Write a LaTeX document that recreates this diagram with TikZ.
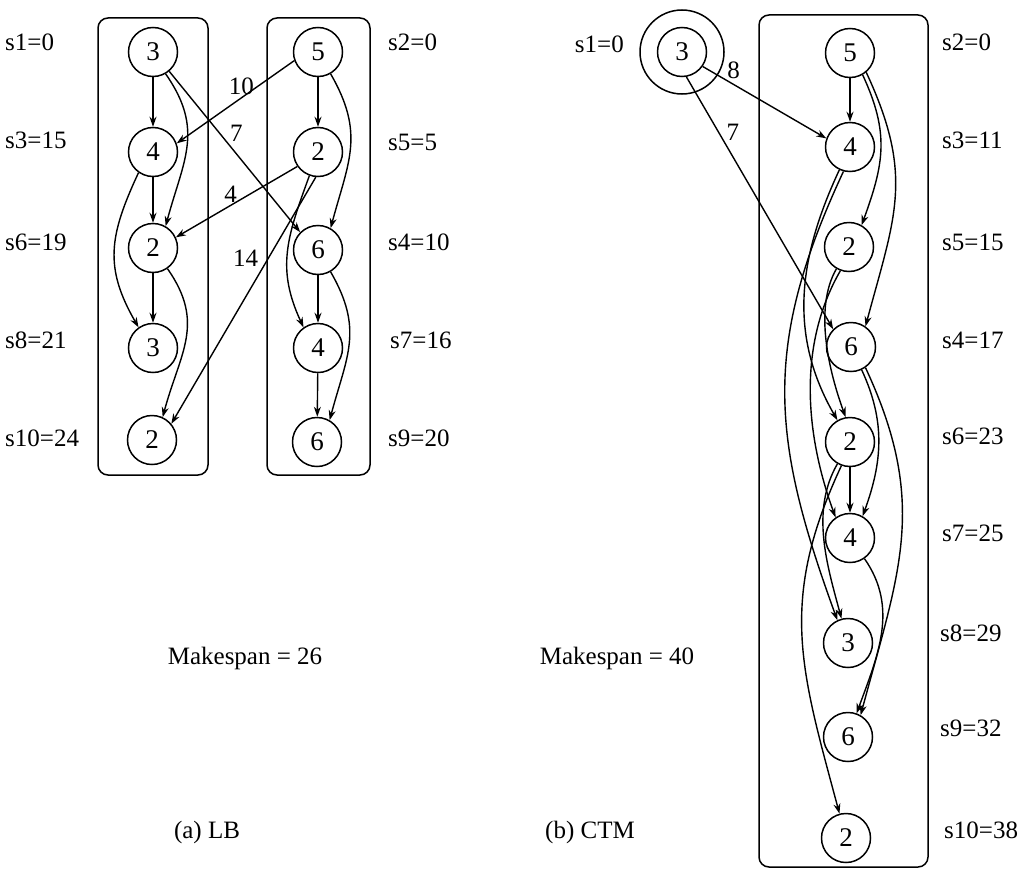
\documentclass[tikz,border=0pt]{standalone}
\usepackage{fontspec}
\setmainfont{Liberation Serif}
\usetikzlibrary{arrows.meta}
\begin{document}
\begin{tikzpicture}[x=1pt,y=-1pt,
  every node/.style={font=\fontsize{25}{28}\selectfont},
  task/.style={circle,draw,line width=1.5pt,minimum size=49pt,inner sep=0pt,font=\fontsize{27}{30}\selectfont},
  lab/.style={anchor=west,inner sep=0pt},
  e/.style={line width=1.4pt,-{Stealth[length=10pt,width=7pt]}},
  grp/.style={draw,line width=1.5pt,rounded corners=10pt}]
\useasboundingbox (0,0) rectangle (1024,875);
% ---------- (a) LB ----------
\draw[grp] (98,18) rectangle (208,475);
\draw[grp] (267,18) rectangle (370,475);
\node[task] (a1) at (153,52) {3};
\node[task] (a3) at (153,152) {4};
\node[task] (a6) at (153,248) {2};
\node[task] (a8) at (153,348) {3};
\node[task] (a10) at (152,440) {2};
\node[task] (a2) at (318,52) {5};
\node[task] (a5) at (318,152) {2};
\node[task] (a4) at (318,250) {6};
\node[task] (a7) at (318,348) {4};
\node[task] (a9) at (317,442) {6};
\node[lab] (la1) at (5,42) {s1=0};
\node[lab] (la3) at (5,140) {s3=15};
\node[lab] (la6) at (5,242) {s6=19};
\node[lab] (la8) at (5,340) {s8=21};
\node[lab] (la10) at (5,438) {s10=24};
\node[lab] (la2) at (388,42) {s2=0};
\node[lab] (la5) at (388,142) {s5=5};
\node[lab] (la4) at (388,242) {s4=10};
\node[lab] (la7) at (390,340) {s7=16};
\node[lab] (la9) at (388,438) {s9=20};
\draw[e] (a1) -- (a3);
\draw[e] (a1.-60) to[out=-55,in=75,looseness=1.15] (a6.60);
\draw[e] (a1.-50) -- node[pos=0.45,above right=-2pt] (w7) {7} (a4.135);
\draw[e] (a2.-160) -- node[pos=0.45,above=-1pt] (w10) {10} (a3.20);
\draw[e] (a2) -- (a5);
\draw[e] (a2.-60) to[out=-60,in=75,looseness=1.15] (a4.60);
\draw[e] (a3) -- (a6);
\draw[e] (a3.-125) to[out=-115,in=120,looseness=1.15] (a8.125);
\draw[e] (a5.-145) -- node[pos=0.55,above=-1pt] (w4) {4} (a6.25);
\draw[e] (a5.-95) -- node[pos=0.33,left=6pt] (w14) {14} (a10.40);
\draw[e] (a5.-110) to[out=-110,in=115,looseness=1.1] (a7.125);
\draw[e] (a4) -- (a7);
\draw[e] (a4.-60) to[out=-60,in=75,looseness=1.15] (a9.60);
\draw[e] (a7) -- (a9);
\draw[e] (a6) -- (a8);
\draw[e] (a6.-55) to[out=-55,in=75,looseness=1.15] (a10.65);
\node (mka) at (245,658) {Makespan = 26};
\node (capa) at (207,832) {(a) LB};
% ---------- (b) CTM ----------
\draw[grp] (759,15) rectangle (928,867);
\node[task] (b1) at (682,52) {3};
\draw[line width=1.5pt] (b1) circle[radius=42pt];
\node[anchor=east,inner sep=0pt] (lb1) at (624,44) {s1=0};
\node[task] (b2) at (850,53) {5};
\node[task] (b3) at (850,147) {4};
\node[task] (b5) at (849,247) {2};
\node[task] (b4) at (851,347) {6};
\node[task] (b6) at (850,442) {2};
\node[task] (b7) at (850,538) {4};
\node[task] (b8) at (848,643) {3};
\node[task] (b9) at (848,737) {6};
\node[task] (b10) at (846,838) {2};
\node[lab] (lb2) at (942,42) {s2=0};
\node[lab] (lb3) at (942,140) {s3=11};
\node[lab] (lb5) at (942,242) {s5=15};
\node[lab] (lb4) at (942,340) {s4=17};
\node[lab] (lb6) at (942,436) {s6=23};
\node[lab] (lb7) at (942,533) {s7=25};
\node[lab] (lb8) at (940,633) {s8=29};
\node[lab] (lb9) at (940,728) {s9=32};
\node[lab] (lb10) at (944,830) {s10=38};
\draw[e] (b1.-35) -- node[pos=0.25,above=2pt] (v8) {8} (b3.160);
\draw[e] (b1.-80) -- node[pos=0.22,right=4pt] (v7) {7} (b4.135);
\draw[e] (b2) -- (b3);
\draw[e] (b2.-60) to[out=-65,in=70,looseness=1.1] (b5.60);
\draw[e] (b2.-50) to[out=-65,in=75,looseness=1.15] (b4.55);
\draw[e] (b3.-115) to[out=-115,in=120,looseness=1.0] (b6.120);
\draw[e] (b3.-105) to[out=-115,in=110,looseness=1.1] (b8.115);
\draw[e] (b5.-120) to[out=-120,in=110,looseness=0.8] (b6.100);
\draw[e] (b5.-110) to[out=-120,in=110,looseness=0.9] (b7.125);
\draw[e] (b4.-65) to[out=-65,in=70,looseness=1.0] (b7.60);
\draw[e] (b4.-55) to[out=-65,in=75,looseness=1.1] (b9.60);
\draw[e] (b6) -- (b7);
\draw[e] (b6.-120) to[out=-120,in=105,looseness=0.9] (b8.105);
\draw[e] (b6.-110) to[out=-115,in=105,looseness=1.1] (b10.105);
\draw[e] (b7.-55) to[out=-55,in=70,looseness=1.0] (b9.70);
\node (mkb) at (617,658) {Makespan = 40};
\node (capb) at (590,832) {(b) CTM};
\end{tikzpicture}
\end{document}
